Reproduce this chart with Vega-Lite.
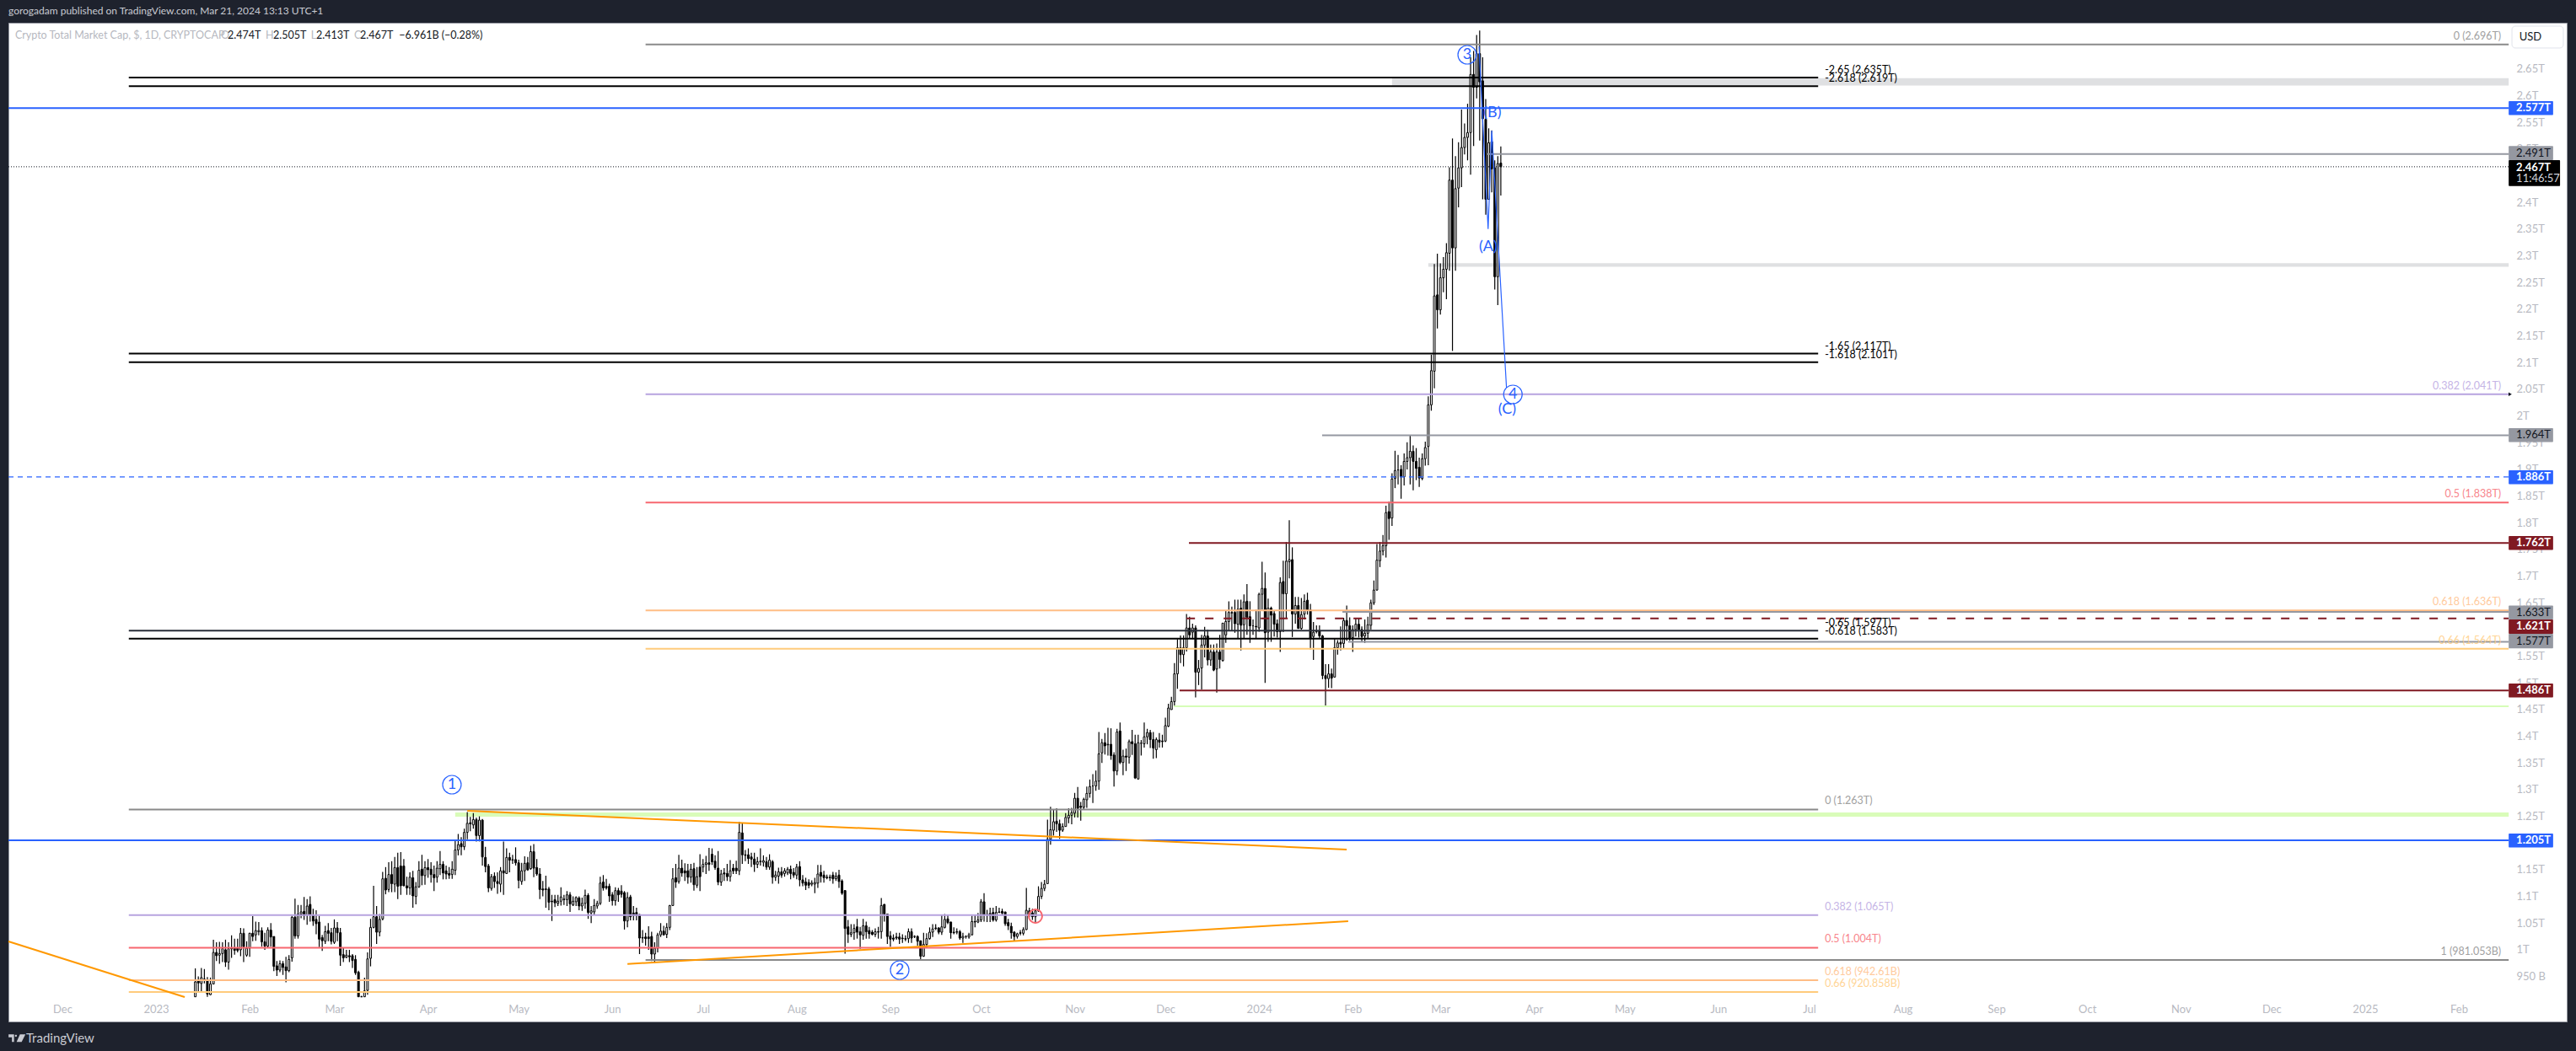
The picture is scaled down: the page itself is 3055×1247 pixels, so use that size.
{"$schema":"https://vega.github.io/schema/vega-lite/v6.json","width":3034,"height":1185,"padding":{"left":10,"top":27,"right":11,"bottom":35},"autosize":{"type":"none"},"background":"#1e222d","view":{"fill":"#ffffff","stroke":"#9598a1","strokeWidth":1},"config":{"font":"Lato"},
"title":{"text":"gorogadam published on TradingView.com, Mar 21, 2024 13:13 UTC+1","anchor":"start","frame":"group","offset":7,"color":"#c9cbd2","fontSize":12,"font":"Lato","fontWeight":"normal"},
"datasets":{
"candles":[
{"d":"2023-01-14","o":0.912,"h":0.965,"l":0.912,"c":0.94},{"d":"2023-01-15","o":0.942,"h":0.95,"l":0.92,"c":0.938},{"d":"2023-01-16","o":0.937,"h":0.966,"l":0.921,"c":0.948},{"d":"2023-01-17","o":0.945,"h":0.964,"l":0.937,"c":0.943},{"d":"2023-01-18","o":0.943,"h":0.949,"l":0.912,"c":0.917},{"d":"2023-01-19","o":0.916,"h":0.948,"l":0.915,"c":0.936},{"d":"2023-01-20","o":0.936,"h":1.019,"l":0.935,"c":0.995},{"d":"2023-01-21","o":0.995,"h":1.014,"l":0.979,"c":0.989},{"d":"2023-01-22","o":0.99,"h":1.015,"l":0.974,"c":0.993},{"d":"2023-01-23","o":0.993,"h":1.014,"l":0.977,"c":1.002},{"d":"2023-01-24","o":1.0,"h":1.019,"l":0.968,"c":0.977},{"d":"2023-01-25","o":0.977,"h":1.014,"l":0.963,"c":1.002},{"d":"2023-01-26","o":1.003,"h":1.027,"l":0.985,"c":1.002},{"d":"2023-01-27","o":1.003,"h":1.021,"l":0.991,"c":0.999},{"d":"2023-01-28","o":1.003,"h":1.021,"l":0.995,"c":0.999},{"d":"2023-01-29","o":1.0,"h":1.041,"l":0.988,"c":1.031},{"d":"2023-01-30","o":1.031,"h":1.04,"l":0.977,"c":1.006},{"d":"2023-01-31","o":0.99,"h":1.016,"l":0.987,"c":1.003},
{"d":"2023-02-01","o":1.003,"h":1.032,"l":0.987,"c":1.031},{"d":"2023-02-02","o":1.031,"h":1.063,"l":1.016,"c":1.025},{"d":"2023-02-03","o":1.028,"h":1.053,"l":1.017,"c":1.036},{"d":"2023-02-04","o":1.034,"h":1.052,"l":1.027,"c":1.036},{"d":"2023-02-05","o":1.036,"h":1.042,"l":1.006,"c":1.015},{"d":"2023-02-06","o":1.015,"h":1.032,"l":1.0,"c":1.007},{"d":"2023-02-07","o":1.007,"h":1.042,"l":1.003,"c":1.037},{"d":"2023-02-08","o":1.037,"h":1.05,"l":1.006,"c":1.024},{"d":"2023-02-09","o":1.025,"h":1.025,"l":0.96,"c":0.969},{"d":"2023-02-10","o":0.97,"h":0.979,"l":0.951,"c":0.962},{"d":"2023-02-11","o":0.962,"h":0.98,"l":0.958,"c":0.974},{"d":"2023-02-12","o":0.974,"h":0.979,"l":0.953,"c":0.967},{"d":"2023-02-13","o":0.968,"h":0.987,"l":0.939,"c":0.961},{"d":"2023-02-14","o":0.961,"h":0.99,"l":0.958,"c":0.982},{"d":"2023-02-15","o":0.985,"h":1.064,"l":0.978,"c":1.061},{"d":"2023-02-16","o":1.061,"h":1.096,"l":1.021,"c":1.026},{"d":"2023-02-17","o":1.026,"h":1.084,"l":1.021,"c":1.067},{"d":"2023-02-18","o":1.067,"h":1.084,"l":1.059,"c":1.071},{"d":"2023-02-19","o":1.072,"h":1.099,"l":1.056,"c":1.064},{"d":"2023-02-20","o":1.065,"h":1.095,"l":1.047,"c":1.082},{"d":"2023-02-21","o":1.085,"h":1.1,"l":1.053,"c":1.065},{"d":"2023-02-22","o":1.065,"h":1.077,"l":1.045,"c":1.054},{"d":"2023-02-23","o":1.057,"h":1.074,"l":1.029,"c":1.049},{"d":"2023-02-24","o":1.052,"h":1.064,"l":1.005,"c":1.02},{"d":"2023-02-25","o":1.023,"h":1.028,"l":0.998,"c":1.017},{"d":"2023-02-26","o":1.016,"h":1.045,"l":1.011,"c":1.034},{"d":"2023-02-27","o":1.036,"h":1.05,"l":1.016,"c":1.031},{"d":"2023-02-28","o":1.032,"h":1.041,"l":1.01,"c":1.016},
{"d":"2023-03-01","o":1.014,"h":1.057,"l":1.011,"c":1.041},{"d":"2023-03-02","o":1.041,"h":1.052,"l":1.016,"c":1.032},{"d":"2023-03-03","o":1.032,"h":1.041,"l":0.97,"c":0.99},{"d":"2023-03-04","o":0.991,"h":1.004,"l":0.977,"c":0.985},{"d":"2023-03-05","o":0.986,"h":1.0,"l":0.984,"c":0.99},{"d":"2023-03-06","o":0.989,"h":1.0,"l":0.977,"c":0.987},{"d":"2023-03-07","o":0.989,"h":0.992,"l":0.966,"c":0.98},{"d":"2023-03-08","o":0.982,"h":0.99,"l":0.953,"c":0.957},{"d":"2023-03-09","o":0.958,"h":0.961,"l":0.912,"c":0.912},{"d":"2023-03-10","o":0.912,"h":0.914,"l":0.912,"c":0.912},{"d":"2023-03-11","o":0.912,"h":0.948,"l":0.912,"c":0.923},{"d":"2023-03-12","o":0.924,"h":0.995,"l":0.916,"c":0.983},{"d":"2023-03-13","o":0.984,"h":1.058,"l":0.969,"c":1.042},{"d":"2023-03-14","o":1.042,"h":1.12,"l":1.04,"c":1.062},{"d":"2023-03-15","o":1.062,"h":1.082,"l":1.011,"c":1.033},{"d":"2023-03-16","o":1.033,"h":1.067,"l":1.025,"c":1.057},{"d":"2023-03-17","o":1.058,"h":1.146,"l":1.055,"c":1.133},{"d":"2023-03-18","o":1.134,"h":1.155,"l":1.104,"c":1.112},{"d":"2023-03-19","o":1.113,"h":1.164,"l":1.108,"c":1.141},{"d":"2023-03-20","o":1.141,"h":1.166,"l":1.108,"c":1.124},{"d":"2023-03-21","o":1.123,"h":1.174,"l":1.108,"c":1.154},{"d":"2023-03-22","o":1.154,"h":1.182,"l":1.095,"c":1.119},{"d":"2023-03-23","o":1.157,"h":1.183,"l":1.103,"c":1.12},{"d":"2023-03-24","o":1.157,"h":1.17,"l":1.119,"c":1.12},{"d":"2023-03-25","o":1.12,"h":1.137,"l":1.103,"c":1.116},{"d":"2023-03-26","o":1.116,"h":1.145,"l":1.103,"c":1.136},{"d":"2023-03-27","o":1.135,"h":1.148,"l":1.079,"c":1.101},{"d":"2023-03-28","o":1.1,"h":1.127,"l":1.085,"c":1.118},{"d":"2023-03-29","o":1.118,"h":1.166,"l":1.116,"c":1.149},{"d":"2023-03-30","o":1.151,"h":1.178,"l":1.121,"c":1.139},{"d":"2023-03-31","o":1.139,"h":1.166,"l":1.122,"c":1.154},
{"d":"2023-04-01","o":1.154,"h":1.17,"l":1.135,"c":1.15},{"d":"2023-04-02","o":1.151,"h":1.164,"l":1.126,"c":1.141},{"d":"2023-04-03","o":1.141,"h":1.158,"l":1.11,"c":1.135},{"d":"2023-04-04","o":1.136,"h":1.166,"l":1.126,"c":1.153},{"d":"2023-04-05","o":1.152,"h":1.185,"l":1.14,"c":1.16},{"d":"2023-04-06","o":1.16,"h":1.166,"l":1.132,"c":1.144},{"d":"2023-04-07","o":1.148,"h":1.158,"l":1.132,"c":1.142},{"d":"2023-04-08","o":1.143,"h":1.155,"l":1.133,"c":1.14},{"d":"2023-04-09","o":1.141,"h":1.166,"l":1.133,"c":1.151},{"d":"2023-04-10","o":1.149,"h":1.206,"l":1.14,"c":1.187},{"d":"2023-04-11","o":1.187,"h":1.217,"l":1.177,"c":1.197},{"d":"2023-04-12","o":1.199,"h":1.211,"l":1.177,"c":1.193},{"d":"2023-04-13","o":1.193,"h":1.227,"l":1.187,"c":1.22},{"d":"2023-04-14","o":1.22,"h":1.258,"l":1.207,"c":1.237},{"d":"2023-04-15","o":1.238,"h":1.249,"l":1.222,"c":1.236},{"d":"2023-04-16","o":1.234,"h":1.256,"l":1.227,"c":1.244},{"d":"2023-04-17","o":1.244,"h":1.248,"l":1.203,"c":1.214},{"d":"2023-04-18","o":1.214,"h":1.25,"l":1.203,"c":1.243},{"d":"2023-04-19","o":1.243,"h":1.245,"l":1.158,"c":1.174},{"d":"2023-04-20","o":1.173,"h":1.193,"l":1.145,"c":1.156},{"d":"2023-04-21","o":1.157,"h":1.161,"l":1.108,"c":1.116},{"d":"2023-04-22","o":1.115,"h":1.142,"l":1.111,"c":1.137},{"d":"2023-04-23","o":1.138,"h":1.145,"l":1.116,"c":1.128},{"d":"2023-04-24","o":1.128,"h":1.145,"l":1.105,"c":1.124},{"d":"2023-04-25","o":1.123,"h":1.155,"l":1.108,"c":1.148},{"d":"2023-04-26","o":1.148,"h":1.203,"l":1.103,"c":1.144},{"d":"2023-04-27","o":1.143,"h":1.19,"l":1.142,"c":1.173},{"d":"2023-04-28","o":1.173,"h":1.182,"l":1.145,"c":1.168},{"d":"2023-04-29","o":1.168,"h":1.178,"l":1.161,"c":1.169},{"d":"2023-04-30","o":1.169,"h":1.192,"l":1.158,"c":1.163},
{"d":"2023-05-01","o":1.163,"h":1.169,"l":1.115,"c":1.13},{"d":"2023-05-02","o":1.128,"h":1.163,"l":1.122,"c":1.148},{"d":"2023-05-03","o":1.148,"h":1.175,"l":1.129,"c":1.162},{"d":"2023-05-04","o":1.163,"h":1.174,"l":1.148,"c":1.15},{"d":"2023-05-05","o":1.152,"h":1.195,"l":1.15,"c":1.184},{"d":"2023-05-06","o":1.184,"h":1.198,"l":1.136,"c":1.153},{"d":"2023-05-07","o":1.154,"h":1.17,"l":1.139,"c":1.142},{"d":"2023-05-08","o":1.142,"h":1.153,"l":1.095,"c":1.113},{"d":"2023-05-09","o":1.114,"h":1.129,"l":1.1,"c":1.112},{"d":"2023-05-10","o":1.114,"h":1.139,"l":1.079,"c":1.113},{"d":"2023-05-11","o":1.114,"h":1.118,"l":1.074,"c":1.089},{"d":"2023-05-12","o":1.091,"h":1.103,"l":1.054,"c":1.09},{"d":"2023-05-13","o":1.094,"h":1.103,"l":1.08,"c":1.088},{"d":"2023-05-14","o":1.087,"h":1.103,"l":1.082,"c":1.091},{"d":"2023-05-15","o":1.091,"h":1.117,"l":1.083,"c":1.099},{"d":"2023-05-16","o":1.095,"h":1.103,"l":1.084,"c":1.094},{"d":"2023-05-17","o":1.094,"h":1.11,"l":1.082,"c":1.103},{"d":"2023-05-18","o":1.103,"h":1.108,"l":1.071,"c":1.086},{"d":"2023-05-19","o":1.084,"h":1.1,"l":1.082,"c":1.091},{"d":"2023-05-20","o":1.09,"h":1.1,"l":1.082,"c":1.098},{"d":"2023-05-21","o":1.097,"h":1.1,"l":1.074,"c":1.082},{"d":"2023-05-22","o":1.082,"h":1.098,"l":1.073,"c":1.087},{"d":"2023-05-23","o":1.087,"h":1.113,"l":1.077,"c":1.102},{"d":"2023-05-24","o":1.102,"h":1.106,"l":1.058,"c":1.07},{"d":"2023-05-25","o":1.069,"h":1.082,"l":1.05,"c":1.073},{"d":"2023-05-26","o":1.071,"h":1.095,"l":1.066,"c":1.083},{"d":"2023-05-27","o":1.082,"h":1.092,"l":1.077,"c":1.087},{"d":"2023-05-28","o":1.087,"h":1.137,"l":1.084,"c":1.125},{"d":"2023-05-29","o":1.127,"h":1.14,"l":1.111,"c":1.116},{"d":"2023-05-30","o":1.119,"h":1.133,"l":1.113,"c":1.116},{"d":"2023-05-31","o":1.119,"h":1.124,"l":1.09,"c":1.101},
{"d":"2023-06-01","o":1.103,"h":1.108,"l":1.083,"c":1.092},{"d":"2023-06-02","o":1.092,"h":1.117,"l":1.083,"c":1.111},{"d":"2023-06-03","o":1.111,"h":1.116,"l":1.09,"c":1.103},{"d":"2023-06-04","o":1.11,"h":1.121,"l":1.098,"c":1.104},{"d":"2023-06-05","o":1.107,"h":1.11,"l":1.038,"c":1.054},{"d":"2023-06-06","o":1.054,"h":1.108,"l":1.042,"c":1.098},{"d":"2023-06-07","o":1.099,"h":1.103,"l":1.055,"c":1.062},{"d":"2023-06-08","o":1.069,"h":1.082,"l":1.055,"c":1.064},{"d":"2023-06-09","o":1.07,"h":1.079,"l":1.055,"c":1.064},{"d":"2023-06-10","o":1.066,"h":1.067,"l":0.992,"c":1.022},{"d":"2023-06-11","o":1.023,"h":1.037,"l":1.013,"c":1.022},{"d":"2023-06-12","o":1.024,"h":1.032,"l":1.008,"c":1.021},{"d":"2023-06-13","o":1.024,"h":1.044,"l":1.0,"c":1.021},{"d":"2023-06-14","o":1.025,"h":1.034,"l":0.979,"c":0.992},{"d":"2023-06-15","o":0.992,"h":1.014,"l":0.976,"c":1.003},{"d":"2023-06-16","o":1.003,"h":1.032,"l":0.995,"c":1.028},{"d":"2023-06-17","o":1.028,"h":1.05,"l":1.024,"c":1.035},{"d":"2023-06-18","o":1.035,"h":1.045,"l":1.027,"c":1.028},{"d":"2023-06-19","o":1.029,"h":1.05,"l":1.022,"c":1.042},{"d":"2023-06-20","o":1.042,"h":1.084,"l":1.037,"c":1.083},{"d":"2023-06-21","o":1.083,"h":1.153,"l":1.082,"c":1.133},{"d":"2023-06-22","o":1.135,"h":1.161,"l":1.116,"c":1.127},{"d":"2023-06-23","o":1.128,"h":1.178,"l":1.124,"c":1.153},{"d":"2023-06-24","o":1.153,"h":1.169,"l":1.137,"c":1.144},{"d":"2023-06-25","o":1.148,"h":1.162,"l":1.129,"c":1.144},{"d":"2023-06-26","o":1.148,"h":1.161,"l":1.124,"c":1.136},{"d":"2023-06-27","o":1.136,"h":1.161,"l":1.126,"c":1.151},{"d":"2023-06-28","o":1.152,"h":1.163,"l":1.111,"c":1.122},{"d":"2023-06-29","o":1.121,"h":1.155,"l":1.116,"c":1.137},{"d":"2023-06-30","o":1.155,"h":1.179,"l":1.11,"c":1.137},
{"d":"2023-07-01","o":1.155,"h":1.17,"l":1.145,"c":1.16},{"d":"2023-07-02","o":1.16,"h":1.176,"l":1.142,"c":1.163},{"d":"2023-07-03","o":1.163,"h":1.191,"l":1.148,"c":1.16},{"d":"2023-07-04","o":1.179,"h":1.19,"l":1.159,"c":1.165},{"d":"2023-07-05","o":1.166,"h":1.177,"l":1.15,"c":1.154},{"d":"2023-07-06","o":1.153,"h":1.185,"l":1.121,"c":1.127},{"d":"2023-07-07","o":1.127,"h":1.15,"l":1.12,"c":1.142},{"d":"2023-07-08","o":1.144,"h":1.153,"l":1.129,"c":1.142},{"d":"2023-07-09","o":1.143,"h":1.161,"l":1.129,"c":1.137},{"d":"2023-07-10","o":1.137,"h":1.168,"l":1.128,"c":1.148},{"d":"2023-07-11","o":1.153,"h":1.161,"l":1.142,"c":1.148},{"d":"2023-07-12","o":1.153,"h":1.167,"l":1.142,"c":1.148},{"d":"2023-07-13","o":1.148,"h":1.24,"l":1.14,"c":1.22},{"d":"2023-07-14","o":1.219,"h":1.237,"l":1.161,"c":1.178},{"d":"2023-07-15","o":1.178,"h":1.187,"l":1.166,"c":1.177},{"d":"2023-07-16","o":1.178,"h":1.19,"l":1.161,"c":1.171},{"d":"2023-07-17","o":1.174,"h":1.182,"l":1.155,"c":1.17},{"d":"2023-07-18","o":1.17,"h":1.182,"l":1.146,"c":1.16},{"d":"2023-07-19","o":1.16,"h":1.174,"l":1.153,"c":1.165},{"d":"2023-07-20","o":1.166,"h":1.19,"l":1.158,"c":1.165},{"d":"2023-07-21","o":1.164,"h":1.177,"l":1.156,"c":1.167},{"d":"2023-07-22","o":1.165,"h":1.174,"l":1.15,"c":1.155},{"d":"2023-07-23","o":1.155,"h":1.179,"l":1.15,"c":1.168},{"d":"2023-07-24","o":1.165,"h":1.168,"l":1.124,"c":1.136},{"d":"2023-07-25","o":1.136,"h":1.148,"l":1.129,"c":1.14},{"d":"2023-07-26","o":1.138,"h":1.154,"l":1.124,"c":1.146},{"d":"2023-07-27","o":1.146,"h":1.155,"l":1.135,"c":1.14},{"d":"2023-07-28","o":1.143,"h":1.153,"l":1.137,"c":1.148},{"d":"2023-07-29","o":1.144,"h":1.155,"l":1.14,"c":1.151},{"d":"2023-07-30","o":1.151,"h":1.158,"l":1.132,"c":1.143},{"d":"2023-07-31","o":1.145,"h":1.153,"l":1.135,"c":1.14},
{"d":"2023-08-01","o":1.14,"h":1.161,"l":1.132,"c":1.155},{"d":"2023-08-02","o":1.156,"h":1.166,"l":1.119,"c":1.131},{"d":"2023-08-03","o":1.131,"h":1.14,"l":1.119,"c":1.125},{"d":"2023-08-04","o":1.127,"h":1.135,"l":1.112,"c":1.121},{"d":"2023-08-05","o":1.126,"h":1.132,"l":1.115,"c":1.121},{"d":"2023-08-06","o":1.123,"h":1.13,"l":1.119,"c":1.125},{"d":"2023-08-07","o":1.123,"h":1.135,"l":1.106,"c":1.126},{"d":"2023-08-08","o":1.125,"h":1.159,"l":1.116,"c":1.142},{"d":"2023-08-09","o":1.145,"h":1.159,"l":1.126,"c":1.138},{"d":"2023-08-10","o":1.14,"h":1.148,"l":1.126,"c":1.135},{"d":"2023-08-11","o":1.136,"h":1.141,"l":1.132,"c":1.135},{"d":"2023-08-12","o":1.136,"h":1.141,"l":1.129,"c":1.135},{"d":"2023-08-13","o":1.14,"h":1.146,"l":1.124,"c":1.133},{"d":"2023-08-14","o":1.133,"h":1.145,"l":1.129,"c":1.138},{"d":"2023-08-15","o":1.14,"h":1.15,"l":1.116,"c":1.128},{"d":"2023-08-16","o":1.129,"h":1.132,"l":1.103,"c":1.106},{"d":"2023-08-17","o":1.111,"h":1.112,"l":0.993,"c":1.04},{"d":"2023-08-18","o":1.043,"h":1.056,"l":1.013,"c":1.029},{"d":"2023-08-19","o":1.029,"h":1.048,"l":1.024,"c":1.032},{"d":"2023-08-20","o":1.032,"h":1.048,"l":1.019,"c":1.04},{"d":"2023-08-21","o":1.043,"h":1.058,"l":1.021,"c":1.033},{"d":"2023-08-22","o":1.034,"h":1.043,"l":1.002,"c":1.028},{"d":"2023-08-23","o":1.027,"h":1.058,"l":1.019,"c":1.045},{"d":"2023-08-24","o":1.045,"h":1.053,"l":1.021,"c":1.034},{"d":"2023-08-25","o":1.036,"h":1.043,"l":1.021,"c":1.03},{"d":"2023-08-26","o":1.033,"h":1.037,"l":1.027,"c":1.029},{"d":"2023-08-27","o":1.029,"h":1.04,"l":1.024,"c":1.034},{"d":"2023-08-28","o":1.034,"h":1.043,"l":1.021,"c":1.033},{"d":"2023-08-29","o":1.034,"h":1.097,"l":1.021,"c":1.083},{"d":"2023-08-30","o":1.085,"h":1.086,"l":1.053,"c":1.067},{"d":"2023-08-31","o":1.067,"h":1.067,"l":1.011,"c":1.025},
{"d":"2023-09-01","o":1.026,"h":1.035,"l":1.006,"c":1.02},{"d":"2023-09-02","o":1.022,"h":1.029,"l":1.016,"c":1.02},{"d":"2023-09-03","o":1.024,"h":1.032,"l":1.019,"c":1.022},{"d":"2023-09-04","o":1.024,"h":1.032,"l":1.011,"c":1.02},{"d":"2023-09-05","o":1.022,"h":1.029,"l":1.013,"c":1.021},{"d":"2023-09-06","o":1.021,"h":1.027,"l":1.016,"c":1.02},{"d":"2023-09-07","o":1.021,"h":1.04,"l":1.013,"c":1.034},{"d":"2023-09-08","o":1.034,"h":1.04,"l":1.013,"c":1.022},{"d":"2023-09-09","o":1.025,"h":1.027,"l":1.022,"c":1.025},{"d":"2023-09-10","o":1.025,"h":1.027,"l":1.008,"c":1.016},{"d":"2023-09-11","o":1.017,"h":1.017,"l":0.98,"c":0.988},{"d":"2023-09-12","o":0.988,"h":1.032,"l":0.987,"c":1.01},{"d":"2023-09-13","o":1.01,"h":1.031,"l":1.003,"c":1.021},{"d":"2023-09-14","o":1.021,"h":1.042,"l":1.019,"c":1.033},{"d":"2023-09-15","o":1.033,"h":1.048,"l":1.024,"c":1.039},{"d":"2023-09-16","o":1.041,"h":1.048,"l":1.037,"c":1.04},{"d":"2023-09-17","o":1.041,"h":1.042,"l":1.029,"c":1.033},{"d":"2023-09-18","o":1.033,"h":1.066,"l":1.028,"c":1.043},{"d":"2023-09-19","o":1.042,"h":1.067,"l":1.04,"c":1.057},{"d":"2023-09-20","o":1.058,"h":1.065,"l":1.048,"c":1.051},{"d":"2023-09-21","o":1.052,"h":1.053,"l":1.021,"c":1.032},{"d":"2023-09-22","o":1.033,"h":1.042,"l":1.029,"c":1.032},{"d":"2023-09-23","o":1.034,"h":1.04,"l":1.029,"c":1.033},{"d":"2023-09-24","o":1.034,"h":1.037,"l":1.019,"c":1.022},{"d":"2023-09-25","o":1.022,"h":1.032,"l":1.013,"c":1.025},{"d":"2023-09-26","o":1.025,"h":1.027,"l":1.021,"c":1.025},{"d":"2023-09-27","o":1.024,"h":1.032,"l":1.021,"c":1.028},{"d":"2023-09-28","o":1.028,"h":1.064,"l":1.027,"c":1.053},{"d":"2023-09-29","o":1.053,"h":1.066,"l":1.042,"c":1.052},{"d":"2023-09-30","o":1.052,"h":1.069,"l":1.05,"c":1.056},
{"d":"2023-10-01","o":1.056,"h":1.095,"l":1.052,"c":1.09},{"d":"2023-10-02","o":1.09,"h":1.106,"l":1.053,"c":1.065},{"d":"2023-10-03","o":1.066,"h":1.075,"l":1.052,"c":1.065},{"d":"2023-10-04","o":1.068,"h":1.079,"l":1.052,"c":1.064},{"d":"2023-10-05","o":1.07,"h":1.079,"l":1.053,"c":1.056},{"d":"2023-10-06","o":1.056,"h":1.082,"l":1.053,"c":1.07},{"d":"2023-10-07","o":1.071,"h":1.079,"l":1.069,"c":1.07},{"d":"2023-10-08","o":1.072,"h":1.077,"l":1.064,"c":1.069},{"d":"2023-10-09","o":1.071,"h":1.071,"l":1.045,"c":1.049},{"d":"2023-10-10","o":1.051,"h":1.058,"l":1.037,"c":1.045},{"d":"2023-10-11","o":1.044,"h":1.051,"l":1.021,"c":1.032},{"d":"2023-10-12","o":1.033,"h":1.035,"l":1.016,"c":1.025},{"d":"2023-10-13","o":1.025,"h":1.032,"l":1.021,"c":1.03},{"d":"2023-10-14","o":1.032,"h":1.037,"l":1.027,"c":1.031},{"d":"2023-10-15","o":1.031,"h":1.042,"l":1.027,"c":1.038},{"d":"2023-10-16","o":1.038,"h":1.116,"l":1.037,"c":1.074},{"d":"2023-10-17","o":1.073,"h":1.079,"l":1.061,"c":1.066},{"d":"2023-10-18","o":1.069,"h":1.077,"l":1.056,"c":1.062},{"d":"2023-10-19","o":1.062,"h":1.077,"l":1.052,"c":1.073},{"d":"2023-10-20","o":1.073,"h":1.119,"l":1.071,"c":1.1},{"d":"2023-10-21","o":1.1,"h":1.127,"l":1.095,"c":1.115},{"d":"2023-10-22","o":1.115,"h":1.131,"l":1.11,"c":1.123},{"d":"2023-10-23","o":1.124,"h":1.244,"l":1.124,"c":1.207},{"d":"2023-10-24","o":1.207,"h":1.268,"l":1.197,"c":1.225},{"d":"2023-10-25","o":1.224,"h":1.262,"l":1.214,"c":1.24},{"d":"2023-10-26","o":1.241,"h":1.265,"l":1.221,"c":1.236},{"d":"2023-10-27","o":1.236,"h":1.244,"l":1.208,"c":1.224},{"d":"2023-10-28","o":1.224,"h":1.237,"l":1.221,"c":1.231},{"d":"2023-10-29","o":1.231,"h":1.256,"l":1.231,"c":1.248},{"d":"2023-10-30","o":1.247,"h":1.265,"l":1.237,"c":1.252},{"d":"2023-10-31","o":1.252,"h":1.266,"l":1.235,"c":1.257},
{"d":"2023-11-01","o":1.256,"h":1.294,"l":1.248,"c":1.284},{"d":"2023-11-02","o":1.284,"h":1.305,"l":1.248,"c":1.265},{"d":"2023-11-03","o":1.269,"h":1.277,"l":1.242,"c":1.267},{"d":"2023-11-04","o":1.267,"h":1.285,"l":1.263,"c":1.282},{"d":"2023-11-05","o":1.281,"h":1.306,"l":1.266,"c":1.293},{"d":"2023-11-06","o":1.293,"h":1.319,"l":1.285,"c":1.306},{"d":"2023-11-07","o":1.307,"h":1.329,"l":1.275,"c":1.307},{"d":"2023-11-08","o":1.307,"h":1.336,"l":1.298,"c":1.316},{"d":"2023-11-09","o":1.316,"h":1.408,"l":1.3,"c":1.367},{"d":"2023-11-10","o":1.369,"h":1.395,"l":1.35,"c":1.388},{"d":"2023-11-11","o":1.388,"h":1.406,"l":1.366,"c":1.382},{"d":"2023-11-12","o":1.385,"h":1.416,"l":1.364,"c":1.384},{"d":"2023-11-13","o":1.385,"h":1.415,"l":1.356,"c":1.364},{"d":"2023-11-14","o":1.365,"h":1.37,"l":1.306,"c":1.335},{"d":"2023-11-15","o":1.335,"h":1.414,"l":1.327,"c":1.408},{"d":"2023-11-16","o":1.41,"h":1.426,"l":1.348,"c":1.351},{"d":"2023-11-17","o":1.351,"h":1.375,"l":1.327,"c":1.363},{"d":"2023-11-18","o":1.363,"h":1.377,"l":1.335,"c":1.361},{"d":"2023-11-19","o":1.361,"h":1.394,"l":1.349,"c":1.39},{"d":"2023-11-20","o":1.39,"h":1.412,"l":1.365,"c":1.386},{"d":"2023-11-21","o":1.386,"h":1.403,"l":1.32,"c":1.322},{"d":"2023-11-22","o":1.32,"h":1.403,"l":1.319,"c":1.388},{"d":"2023-11-23","o":1.387,"h":1.393,"l":1.364,"c":1.387},{"d":"2023-11-24","o":1.386,"h":1.426,"l":1.379,"c":1.399},{"d":"2023-11-25","o":1.399,"h":1.414,"l":1.385,"c":1.407},{"d":"2023-11-26","o":1.407,"h":1.412,"l":1.378,"c":1.394},{"d":"2023-11-27","o":1.394,"h":1.408,"l":1.358,"c":1.378},{"d":"2023-11-28","o":1.375,"h":1.398,"l":1.359,"c":1.394},{"d":"2023-11-29","o":1.393,"h":1.406,"l":1.379,"c":1.389},{"d":"2023-11-30","o":1.391,"h":1.403,"l":1.379,"c":1.39},
{"d":"2023-12-01","o":1.391,"h":1.435,"l":1.389,"c":1.42},{"d":"2023-12-02","o":1.419,"h":1.461,"l":1.417,"c":1.453},{"d":"2023-12-03","o":1.45,"h":1.474,"l":1.45,"c":1.465},{"d":"2023-12-04","o":1.465,"h":1.537,"l":1.456,"c":1.517},{"d":"2023-12-05","o":1.517,"h":1.582,"l":1.489,"c":1.566},{"d":"2023-12-06","o":1.566,"h":1.589,"l":1.537,"c":1.553},{"d":"2023-12-07","o":1.553,"h":1.589,"l":1.531,"c":1.566},{"d":"2023-12-08","o":1.566,"h":1.629,"l":1.559,"c":1.603},{"d":"2023-12-09","o":1.603,"h":1.624,"l":1.584,"c":1.59},{"d":"2023-12-10","o":1.595,"h":1.611,"l":1.582,"c":1.603},{"d":"2023-12-11","o":1.603,"h":1.608,"l":1.473,"c":1.52},{"d":"2023-12-12","o":1.52,"h":1.543,"l":1.496,"c":1.527},{"d":"2023-12-13","o":1.528,"h":1.59,"l":1.488,"c":1.571},{"d":"2023-12-14","o":1.571,"h":1.605,"l":1.548,"c":1.588},{"d":"2023-12-15","o":1.588,"h":1.6,"l":1.533,"c":1.543},{"d":"2023-12-16","o":1.543,"h":1.572,"l":1.532,"c":1.558},{"d":"2023-12-17","o":1.558,"h":1.572,"l":1.522,"c":1.524},{"d":"2023-12-18","o":1.526,"h":1.574,"l":1.482,"c":1.558},{"d":"2023-12-19","o":1.558,"h":1.59,"l":1.527,"c":1.544},{"d":"2023-12-20","o":1.542,"h":1.612,"l":1.54,"c":1.612},{"d":"2023-12-21","o":1.59,"h":1.635,"l":1.575,"c":1.615},{"d":"2023-12-22","o":1.615,"h":1.653,"l":1.598,"c":1.632},{"d":"2023-12-23","o":1.632,"h":1.643,"l":1.598,"c":1.631},{"d":"2023-12-24","o":1.632,"h":1.656,"l":1.594,"c":1.611},{"d":"2023-12-25","o":1.61,"h":1.656,"l":1.584,"c":1.638},{"d":"2023-12-26","o":1.64,"h":1.656,"l":1.561,"c":1.608},{"d":"2023-12-27","o":1.609,"h":1.666,"l":1.584,"c":1.652},{"d":"2023-12-28","o":1.653,"h":1.685,"l":1.59,"c":1.623},{"d":"2023-12-29","o":1.624,"h":1.653,"l":1.575,"c":1.607},{"d":"2023-12-30","o":1.607,"h":1.619,"l":1.59,"c":1.607},{"d":"2023-12-31","o":1.606,"h":1.637,"l":1.584,"c":1.605},
{"d":"2024-01-01","o":1.603,"h":1.669,"l":1.596,"c":1.666},{"d":"2024-01-02","o":1.666,"h":1.727,"l":1.637,"c":1.677},{"d":"2024-01-03","o":1.677,"h":1.707,"l":1.5,"c":1.594},{"d":"2024-01-04","o":1.595,"h":1.658,"l":1.577,"c":1.64},{"d":"2024-01-05","o":1.64,"h":1.643,"l":1.577,"c":1.627},{"d":"2024-01-06","o":1.63,"h":1.635,"l":1.587,"c":1.61},{"d":"2024-01-07","o":1.611,"h":1.619,"l":1.585,"c":1.596},{"d":"2024-01-08","o":1.596,"h":1.698,"l":1.558,"c":1.688},{"d":"2024-01-09","o":1.69,"h":1.729,"l":1.595,"c":1.667},{"d":"2024-01-10","o":1.667,"h":1.764,"l":1.622,"c":1.728},{"d":"2024-01-11","o":1.727,"h":1.805,"l":1.696,"c":1.731},{"d":"2024-01-12","o":1.731,"h":1.754,"l":1.586,"c":1.629},{"d":"2024-01-13","o":1.629,"h":1.661,"l":1.611,"c":1.645},{"d":"2024-01-14","o":1.645,"h":1.661,"l":1.602,"c":1.602},{"d":"2024-01-15","o":1.602,"h":1.659,"l":1.6,"c":1.628},{"d":"2024-01-16","o":1.629,"h":1.666,"l":1.619,"c":1.653},{"d":"2024-01-17","o":1.655,"h":1.669,"l":1.628,"c":1.637},{"d":"2024-01-18","o":1.637,"h":1.648,"l":1.563,"c":1.584},{"d":"2024-01-19","o":1.587,"h":1.614,"l":1.543,"c":1.595},{"d":"2024-01-20","o":1.596,"h":1.608,"l":1.593,"c":1.596},{"d":"2024-01-21","o":1.598,"h":1.608,"l":1.584,"c":1.588},{"d":"2024-01-22","o":1.588,"h":1.59,"l":1.507,"c":1.514},{"d":"2024-01-23","o":1.514,"h":1.535,"l":1.457,"c":1.508},{"d":"2024-01-24","o":1.508,"h":1.535,"l":1.491,"c":1.517},{"d":"2024-01-25","o":1.517,"h":1.527,"l":1.49,"c":1.509},{"d":"2024-01-26","o":1.511,"h":1.582,"l":1.51,"c":1.566},{"d":"2024-01-27","o":1.566,"h":1.58,"l":1.553,"c":1.575},{"d":"2024-01-28","o":1.576,"h":1.606,"l":1.561,"c":1.573},{"d":"2024-01-29","o":1.574,"h":1.622,"l":1.564,"c":1.617},{"d":"2024-01-30","o":1.617,"h":1.645,"l":1.579,"c":1.607},{"d":"2024-01-31","o":1.607,"h":1.623,"l":1.579,"c":1.583},
{"d":"2024-02-01","o":1.585,"h":1.608,"l":1.558,"c":1.6},{"d":"2024-02-02","o":1.6,"h":1.622,"l":1.587,"c":1.61},{"d":"2024-02-03","o":1.61,"h":1.622,"l":1.585,"c":1.6},{"d":"2024-02-04","o":1.6,"h":1.606,"l":1.577,"c":1.587},{"d":"2024-02-05","o":1.588,"h":1.619,"l":1.575,"c":1.593},{"d":"2024-02-06","o":1.593,"h":1.624,"l":1.584,"c":1.609},{"d":"2024-02-07","o":1.608,"h":1.656,"l":1.6,"c":1.65},{"d":"2024-02-08","o":1.65,"h":1.692,"l":1.646,"c":1.674},{"d":"2024-02-09","o":1.674,"h":1.76,"l":1.673,"c":1.73},{"d":"2024-02-10","o":1.729,"h":1.764,"l":1.717,"c":1.747},{"d":"2024-02-11","o":1.747,"h":1.777,"l":1.739,"c":1.757},{"d":"2024-02-12","o":1.757,"h":1.832,"l":1.735,"c":1.819},{"d":"2024-02-13","o":1.821,"h":1.84,"l":1.768,"c":1.808},{"d":"2024-02-14","o":1.809,"h":1.893,"l":1.794,"c":1.882},{"d":"2024-02-15","o":1.883,"h":1.935,"l":1.865,"c":1.898},{"d":"2024-02-16","o":1.899,"h":1.927,"l":1.872,"c":1.899},{"d":"2024-02-17","o":1.9,"h":1.908,"l":1.845,"c":1.886},{"d":"2024-02-18","o":1.886,"h":1.93,"l":1.87,"c":1.915},{"d":"2024-02-19","o":1.915,"h":1.951,"l":1.9,"c":1.922},{"d":"2024-02-20","o":1.922,"h":1.964,"l":1.872,"c":1.934},{"d":"2024-02-21","o":1.934,"h":1.945,"l":1.861,"c":1.915},{"d":"2024-02-22","o":1.915,"h":1.94,"l":1.88,"c":1.902},{"d":"2024-02-23","o":1.904,"h":1.922,"l":1.867,"c":1.884},{"d":"2024-02-24","o":1.883,"h":1.93,"l":1.88,"c":1.92},{"d":"2024-02-25","o":1.92,"h":1.952,"l":1.907,"c":1.941},{"d":"2024-02-26","o":1.943,"h":2.037,"l":1.908,"c":2.021},{"d":"2024-02-27","o":2.021,"h":2.115,"l":2.01,"c":2.085},{"d":"2024-02-28","o":2.084,"h":2.285,"l":2.052,"c":2.225},{"d":"2024-02-29","o":2.227,"h":2.304,"l":2.164,"c":2.199},
{"d":"2024-03-01","o":2.199,"h":2.286,"l":2.19,"c":2.259},{"d":"2024-03-02","o":2.259,"h":2.298,"l":2.232,"c":2.275},{"d":"2024-03-03","o":2.275,"h":2.324,"l":2.219,"c":2.306},{"d":"2024-03-04","o":2.305,"h":2.466,"l":2.272,"c":2.442},{"d":"2024-03-05","o":2.442,"h":2.52,"l":2.122,"c":2.315},{"d":"2024-03-06","o":2.315,"h":2.487,"l":2.272,"c":2.426},{"d":"2024-03-07","o":2.427,"h":2.513,"l":2.391,"c":2.465},{"d":"2024-03-08","o":2.465,"h":2.574,"l":2.429,"c":2.503},{"d":"2024-03-09","o":2.503,"h":2.548,"l":2.49,"c":2.522},{"d":"2024-03-10","o":2.522,"h":2.585,"l":2.479,"c":2.531},{"d":"2024-03-11","o":2.531,"h":2.672,"l":2.452,"c":2.64},{"d":"2024-03-12","o":2.64,"h":2.684,"l":2.506,"c":2.616},{"d":"2024-03-13","o":2.616,"h":2.714,"l":2.595,"c":2.679},{"d":"2024-03-14","o":2.679,"h":2.722,"l":2.516,"c":2.626},{"d":"2024-03-15","o":2.628,"h":2.672,"l":2.406,"c":2.557},{"d":"2024-03-16","o":2.556,"h":2.594,"l":2.377,"c":2.406},{"d":"2024-03-17","o":2.406,"h":2.539,"l":2.406,"c":2.512},{"d":"2024-03-18","o":2.514,"h":2.535,"l":2.419,"c":2.463},{"d":"2024-03-19","o":2.465,"h":2.479,"l":2.237,"c":2.261},{"d":"2024-03-20","o":2.261,"h":2.487,"l":2.208,"c":2.473},{"d":"2024-03-21","o":2.474,"h":2.505,"l":2.413,"c":2.467}
],
"zones":[
{"d":"2023-04-10","e":"2025-02-17T12:00:00Z","p":1.2573,"p2":1.2494,"s":"zonegreen"},
{"d":"2024-02-14","e":"2025-02-17T12:00:00Z","p":2.633,"p2":2.619,"s":"zonegray"},
{"d":"2024-02-26","e":"2025-02-17T12:00:00Z","p":2.2863,"p2":2.2795,"s":"zonegray"}
],
"segs":[
{"d":"2022-12-23","e":"2024-07-04","p":2.634,"s":"black"},{"d":"2022-12-23","e":"2024-07-04","p":2.618,"s":"black"},{"d":"2022-12-23","e":"2024-07-04","p":2.117,"s":"black"},{"d":"2022-12-23","e":"2024-07-04","p":2.101,"s":"black"},{"d":"2022-12-23","e":"2024-07-04","p":1.598,"s":"dark"},{"d":"2022-12-23","e":"2024-07-04","p":1.583,"s":"black"},
{"d":"2023-06-12","e":"2025-02-17T12:00:00Z","p":2.696,"s":"fibgray"},{"d":"2023-06-12","e":"2025-02-17T12:00:00Z","p":0.981,"s":"fibgray"},{"d":"2022-12-23","e":"2024-07-04","p":1.263,"s":"fibgray"},
{"d":"2023-06-12","e":"2025-02-17T12:00:00Z","p":2.041,"s":"purple"},{"d":"2022-12-23","e":"2024-07-04","p":1.065,"s":"purple"},
{"d":"2023-06-12","e":"2025-02-17T12:00:00Z","p":1.838,"s":"red"},{"d":"2022-12-23","e":"2024-07-04","p":1.004,"s":"red"},
{"d":"2023-06-12","e":"2025-02-17T12:00:00Z","p":1.636,"s":"o618"},{"d":"2022-12-23","e":"2024-07-04","p":0.943,"s":"o618"},
{"d":"2023-06-12","e":"2025-02-17T12:00:00Z","p":1.564,"s":"o66"},{"d":"2022-12-23","e":"2024-07-04","p":0.921,"s":"o66"},
{"d":"2022-11-13T04:00:00Z","e":"2025-02-17T12:00:00Z","p":2.577,"s":"blue"},{"d":"2022-11-13T04:00:00Z","e":"2025-02-17T12:00:00Z","p":1.205,"s":"blue"},
{"d":"2024-03-16T14:00:00Z","e":"2025-02-17T12:00:00Z","p":2.491,"s":"gray"},{"d":"2024-01-21T21:00:00Z","e":"2025-02-17T12:00:00Z","p":1.964,"s":"gray"},{"d":"2024-01-28T14:00:00Z","e":"2025-02-17T12:00:00Z","p":1.633,"s":"gray"},{"d":"2024-01-30T12:00:00Z","e":"2025-02-17T12:00:00Z","p":1.577,"s":"gray"},
{"d":"2023-12-08T19:00:00Z","e":"2025-02-17T12:00:00Z","p":1.762,"s":"darkred"},{"d":"2023-12-05T17:00:00Z","e":"2025-02-17T12:00:00Z","p":1.486,"s":"darkred"},
{"d":"2023-12-03T19:00:00Z","e":"2025-02-17T12:00:00Z","p":1.4563,"s":"green"}
],
"dashblue":[{"d":"2022-11-13T04:00:00Z","e":"2025-02-17T12:00:00Z","p":1.886,"s":"blue"}],
"dashred":[{"d":"2023-12-08","e":"2025-02-17T12:00:00Z","p":1.621,"s":"darkred"}],
"dotlast":[{"d":"2022-11-13T04:00:00Z","e":"2025-02-17T12:00:00Z","p":2.467,"s":"ink"}],
"trends":[
{"d":"2023-04-14","e":"2024-01-30","p":1.2605,"p2":1.1878,"s":"trend"},
{"d":"2023-06-06","e":"2024-01-30T12:00:00Z","p":0.9735,"p2":1.0536,"s":"trend"},
{"d":"2022-11-13T04:00:00Z","e":"2023-01-10T12:00:00Z","p":1.0157,"p2":0.9115,"s":"trend"}
],
"wave":[
{"d":"2024-03-13T19:00:00Z","p":2.6926,"s":"blue"},{"d":"2024-03-16T19:00:00Z","p":2.3505,"s":"blue"},{"d":"2024-03-18T00:00:00Z","p":2.5347,"s":"blue"},{"d":"2024-03-22T21:00:00Z","p":2.0531,"s":"blue"}
],
"circles":[
{"d":"2024-03-09T21:00:00Z","p":2.6768,"s":"blue"},{"d":"2024-03-25","p":2.0405,"s":"blue"},{"d":"2023-04-08T22:00:00Z","p":1.3094,"s":"blue"},{"d":"2023-09-04T02:00:00Z","p":0.962,"s":"blue"}
],
"redcircle":[{"d":"2023-10-19","p":1.0631,"s":"red"}],
"wavetext":[
{"d":"2024-03-09T21:00:00Z","p":2.6768,"t":"3","s":"blue"},{"d":"2024-03-25","p":2.0405,"t":"4","s":"blue"},{"d":"2023-04-08T22:00:00Z","p":1.3094,"t":"1","s":"blue"},{"d":"2023-09-04T02:00:00Z","p":0.962,"t":"2","s":"blue"},
{"d":"2024-03-18T05:00:00Z","p":2.5679,"t":"(B)","s":"blue"},{"d":"2024-03-16T19:00:00Z","p":2.3168,"t":"(A)","s":"blue"},{"d":"2024-03-23T02:00:00Z","p":2.0121,"t":"(C)","s":"blue"}
],
"tags":[
{"d":"2025-02-17T12:00:00Z","e":"2025-03-04T05:00:00Z","p":2.59,"p2":2.5638,"s":"blue"},
{"d":"2025-02-17T12:00:00Z","e":"2025-03-04T05:00:00Z","p":2.5057,"p2":2.4795,"s":"gray"},
{"d":"2025-02-17T12:00:00Z","e":"2025-03-06T12:00:00Z","p":2.4795,"p2":2.431,"s":"tagblack"},
{"d":"2025-02-17T12:00:00Z","e":"2025-03-04T05:00:00Z","p":1.9773,"p2":1.9511,"s":"gray"},
{"d":"2025-02-17T12:00:00Z","e":"2025-03-04T05:00:00Z","p":1.8984,"p2":1.8722,"s":"blue"},
{"d":"2025-02-17T12:00:00Z","e":"2025-03-04T05:00:00Z","p":1.7752,"p2":1.749,"s":"darkred"},
{"d":"2025-02-17T12:00:00Z","e":"2025-03-04T05:00:00Z","p":1.6451,"p2":1.6189,"s":"gray"},
{"d":"2025-02-17T12:00:00Z","e":"2025-03-04T05:00:00Z","p":1.6189,"p2":1.592,"s":"darkred"},
{"d":"2025-02-17T12:00:00Z","e":"2025-03-04T05:00:00Z","p":1.592,"p2":1.5648,"s":"gray"},
{"d":"2025-02-17T12:00:00Z","e":"2025-03-04T05:00:00Z","p":1.4989,"p2":1.4727,"s":"darkred"},
{"d":"2025-02-17T12:00:00Z","e":"2025-03-04T05:00:00Z","p":1.2178,"p2":1.1916,"s":"blue"}
],
"tagdark":[
{"d":"2025-02-20","p":2.4926,"t":"2.491T","s":"ink"},{"d":"2025-02-20","p":1.9642,"t":"1.964T","s":"ink"},{"d":"2025-02-20","p":1.632,"t":"1.633T","s":"ink"},{"d":"2025-02-20","p":1.5778,"t":"1.577T","s":"ink"},{"d":"2025-02-21","p":2.7092,"t":"USD","s":"ink"}
],
"tagwhite":[
{"d":"2025-02-20","p":2.5769,"t":"2.577T","s":"white"},{"d":"2025-02-20","p":2.4659,"t":"2.467T","s":"white"},{"d":"2025-02-20","p":1.8853,"t":"1.886T","s":"white"},{"d":"2025-02-20","p":1.7621,"t":"1.762T","s":"white"},{"d":"2025-02-20","p":1.6055,"t":"1.621T","s":"white"},{"d":"2025-02-20","p":1.4858,"t":"1.486T","s":"white"},{"d":"2025-02-20","p":1.2047,"t":"1.205T","s":"white"}
],
"clock":[{"d":"2025-02-20","p":2.4448,"t":"11:46:57","s":"clock"}],
"usd":[{"d":"2025-02-18T14:00:00Z","e":"2025-03-07T14:00:00Z","p":2.7305,"p2":2.6895,"s":"white"}],
"fibright":[
{"d":"2025-02-15","p":2.696,"t":"0 (2.696T)","s":"fibgray"},{"d":"2025-02-15","p":2.041,"t":"0.382 (2.041T)","s":"purple"},{"d":"2025-02-15","p":1.838,"t":"0.5 (1.838T)","s":"red"},{"d":"2025-02-15","p":1.636,"t":"0.618 (1.636T)","s":"o618"},{"d":"2025-02-15","p":1.564,"t":"0.66 (1.564T)","s":"o66"},{"d":"2025-02-15","p":0.981,"t":"1 (981.053B)","s":"fibgray"}
],
"fibleft":[
{"d":"2024-07-06T05:00:00Z","p":1.263,"t":"0 (1.263T)","s":"fibgray"},{"d":"2024-07-06T05:00:00Z","p":1.065,"t":"0.382 (1.065T)","s":"purple"},{"d":"2024-07-06T05:00:00Z","p":1.004,"t":"0.5 (1.004T)","s":"red"},{"d":"2024-07-06T05:00:00Z","p":0.943,"t":"0.618 (942.61B)","s":"o618"},{"d":"2024-07-06T05:00:00Z","p":0.921,"t":"0.66 (920.858B)","s":"o66"}
],
"blacklabels":[
{"d":"2024-07-06T05:00:00Z","p":2.634,"t":"-2.65 (2.635T)","s":"black"},{"d":"2024-07-06T05:00:00Z","p":2.618,"t":"-2.618 (2.619T)","s":"black"},{"d":"2024-07-06T05:00:00Z","p":2.117,"t":"-1.65 (2.117T)","s":"black"},{"d":"2024-07-06T05:00:00Z","p":2.101,"t":"-1.618 (2.101T)","s":"black"},{"d":"2024-07-06T05:00:00Z","p":1.598,"t":"-0.65 (1.597T)","s":"black"},{"d":"2024-07-06T05:00:00Z","p":1.583,"t":"-0.618 (1.583T)","s":"black"}
],
"legendtext":[
{"d":"2022-11-15T09:00:00Z","p":2.7132,"t":"Crypto Total Market Cap, $, 1D, CRYPTOCAP","s":"muted"},
{"d":"2023-01-22T12:00:00Z","p":2.7132,"t":"O","s":"muted"},{"d":"2023-01-24T17:00:00Z","p":2.7132,"t":"2.474T","s":"ink"},
{"d":"2023-02-06T07:00:00Z","p":2.7132,"t":"H","s":"muted"},{"d":"2023-02-08T19:00:00Z","p":2.7132,"t":"2.505T","s":"ink"},
{"d":"2023-02-21T07:00:00Z","p":2.7132,"t":"L","s":"muted"},{"d":"2023-02-23","p":2.7132,"t":"2.413T","s":"ink"},
{"d":"2023-03-07T14:00:00Z","p":2.7132,"t":"C","s":"muted"},{"d":"2023-03-09T12:00:00Z","p":2.7132,"t":"2.467T","s":"ink"},
{"d":"2023-03-22T10:00:00Z","p":2.7132,"t":"−6.961B (−0.28%)","s":"ink"}
],
"arrow":[{"d":"2025-02-18","p":2.041,"s":"ink"}],
"logo":[{"d":"2022-11-16","p":0.8345,"s":"logo"}],
"footer":[{"d":"2022-11-19","p":0.8345,"t":"TradingView","s":"logo"}]
},
"encoding":{
"x":{"field":"d","type":"temporal","title":null,"scale":{"type":"utc","padding":0,"domain":["2022-11-13T04:00:00Z","2025-03-08T17:00:00Z"]},"axis":{"orient":"bottom","offset":-29,"domain":false,"ticks":false,"grid":false,"labelPadding":8,"labelFont":"Lato","labelFontSize":13,"labelColor":"#b8bac2","labelOverlap":false,"labelFlush":false,"values":["2022-12-01T00:00:00Z","2023-01-01T00:00:00Z","2023-02-01T00:00:00Z","2023-03-01T00:00:00Z","2023-04-01T00:00:00Z","2023-05-01T00:00:00Z","2023-06-01T00:00:00Z","2023-07-01T00:00:00Z","2023-08-01T00:00:00Z","2023-09-01T00:00:00Z","2023-10-01T00:00:00Z","2023-11-01T00:00:00Z","2023-12-01T00:00:00Z","2024-01-01T00:00:00Z","2024-02-01T00:00:00Z","2024-03-01T00:00:00Z","2024-04-01T00:00:00Z","2024-05-01T00:00:00Z","2024-06-01T00:00:00Z","2024-07-01T00:00:00Z","2024-08-01T00:00:00Z","2024-09-01T00:00:00Z","2024-10-01T00:00:00Z","2024-11-01T00:00:00Z","2024-12-01T00:00:00Z","2025-01-01T00:00:00Z","2025-02-01T00:00:00Z"],"labelExpr":"utcmonth(datum.value)==0 ? utcFormat(datum.value,'%Y') : utcFormat(datum.value,'%b')"}},
"y":{"field":"p","type":"quantitative","title":null,"scale":{"domain":[0.8657,2.7368],"nice":false,"zero":false},"axis":{"orient":"right","offset":-69,"domain":false,"ticks":false,"grid":false,"labelPadding":9,"labelFont":"Lato","labelFontSize":13,"labelColor":"#b8bac2","labelOverlap":false,"labelAlign":"left","values":[0.95,1,1.05,1.1,1.15,1.2,1.25,1.3,1.35,1.4,1.45,1.5,1.55,1.6,1.65,1.7,1.75,1.8,1.85,1.9,1.95,2,2.05,2.1,2.15,2.2,2.25,2.3,2.35,2.4,2.45,2.5,2.55,2.6,2.65],"labelExpr":"datum.value>=1 ? format(datum.value,'.3~f')+'T' : format(datum.value*1000,'d')+' B'"}},
"color":{"field":"s","type":"nominal","legend":null,"scale":{"domain":["black","dark","fibgray","purple","red","o618","o66","blue","gray","darkred","green","zonegreen","zonegray","trend","tagblack","white","ink","muted","clock","logo"],"range":["#000000","#2a2e39","#8a8a8a","#b7a3df","#f7676f","#ffbd85","#ffcb7c","#2962ff","#9598a1","#801922","#d6fdb8","#d9fcb9","#dfe0e2","#ff9800","#000000","#ffffff","#131722","#b6b8c0","#d1d4dc","#c9cbd2"]}}
},
"layer":[
{"data":{"name":"zones"},"mark":{"type":"rect"},"encoding":{"x2":{"field":"e"},"y2":{"field":"p2"}}},
{"data":{"name":"candles"},"mark":{"type":"rule","strokeWidth":1.2},"encoding":{"y":{"field":"h","type":"quantitative","title":null,"scale":{"domain":[0.8657,2.7368],"nice":false,"zero":false}},"y2":{"field":"l"},"color":{"value":"#000000"}}},
{"data":{"name":"candles"},"mark":{"type":"bar","size":2,"strokeWidth":1,"stroke":"#000000"},"encoding":{"y":{"field":"o","type":"quantitative","title":null,"scale":{"domain":[0.8657,2.7368],"nice":false,"zero":false}},"y2":{"field":"c"},"color":{"condition":{"test":"datum.c>=datum.o","value":"#ffffff"},"value":"#000000"}}},
{"data":{"name":"segs"},"mark":{"type":"rule","strokeWidth":2},"encoding":{"x2":{"field":"e"}}},
{"data":{"name":"dashblue"},"mark":{"type":"rule","strokeWidth":1.2,"strokeDash":[6,5]},"encoding":{"x2":{"field":"e"}}},
{"data":{"name":"dashred"},"mark":{"type":"rule","strokeWidth":2,"strokeDash":[10,12]},"encoding":{"x2":{"field":"e"}}},
{"data":{"name":"dotlast"},"mark":{"type":"rule","strokeWidth":1,"strokeDash":[1,2]},"encoding":{"x2":{"field":"e"}}},
{"data":{"name":"trends"},"mark":{"type":"rule","strokeWidth":2},"encoding":{"x2":{"field":"e"},"y2":{"field":"p2"}}},
{"data":{"name":"wave"},"mark":{"type":"line","strokeWidth":1.2},"encoding":{}},
{"data":{"name":"circles"},"mark":{"type":"point","filled":false,"size":484,"strokeWidth":1.2,"opacity":1},"encoding":{}},
{"data":{"name":"redcircle"},"mark":{"type":"point","filled":false,"size":256,"strokeWidth":2,"opacity":1},"encoding":{}},
{"data":{"name":"wavetext"},"mark":{"type":"text","font":"Lato","fontSize":18,"align":"center","baseline":"middle"},"encoding":{"text":{"field":"t"}}},
{"data":{"name":"fibright"},"mark":{"type":"text","font":"Lato","fontSize":12.5,"align":"right","baseline":"middle","dy":-10,"opacity":0.8},"encoding":{"text":{"field":"t"}}},
{"data":{"name":"fibleft"},"mark":{"type":"text","font":"Lato","fontSize":12.5,"align":"left","baseline":"middle","dy":-10,"opacity":0.8},"encoding":{"text":{"field":"t"}}},
{"data":{"name":"blacklabels"},"mark":{"type":"text","font":"Lato","fontSize":12.5,"align":"left","baseline":"middle","dy":-9},"encoding":{"text":{"field":"t"}}},
{"data":{"name":"usd"},"mark":{"type":"rect","cornerRadius":4,"stroke":"#e0e3eb","strokeWidth":1},"encoding":{"x2":{"field":"e"},"y2":{"field":"p2"}}},
{"data":{"name":"tags"},"mark":{"type":"rect","cornerRadius":1},"encoding":{"x2":{"field":"e"},"y2":{"field":"p2"}}},
{"data":{"name":"tagdark"},"mark":{"type":"text","font":"Lato","fontSize":13,"align":"left","baseline":"middle"},"encoding":{"text":{"field":"t"}}},
{"data":{"name":"tagwhite"},"mark":{"type":"text","font":"Lato","fontSize":13,"fontWeight":"bold","align":"left","baseline":"middle"},"encoding":{"text":{"field":"t"}}},
{"data":{"name":"clock"},"mark":{"type":"text","font":"Lato","fontSize":13,"align":"left","baseline":"middle"},"encoding":{"text":{"field":"t"}}},
{"data":{"name":"legendtext"},"mark":{"type":"text","font":"Lato","fontSize":12.5,"align":"left","baseline":"middle"},"encoding":{"text":{"field":"t"}}},
{"data":{"name":"arrow"},"mark":{"type":"point","shape":"triangle-right","filled":true,"size":20,"opacity":1},"encoding":{}},
{"data":{"name":"logo"},"mark":{"type":"point","filled":true,"size":400,"opacity":1,"shape":"M-1 -.45 H-.35 V.45 H-.6 V-.1 H-1 Z M-.25 -.28 a.12 .12 0 1 0 .24 0 a.12 .12 0 1 0 -.24 0 Z M.35 -.45 H1 L.55 .45 H-.05 Z"},"encoding":{}},
{"data":{"name":"footer"},"mark":{"type":"text","font":"Lato","fontSize":15,"align":"left","baseline":"middle"},"encoding":{"text":{"field":"t"}}}
]}
